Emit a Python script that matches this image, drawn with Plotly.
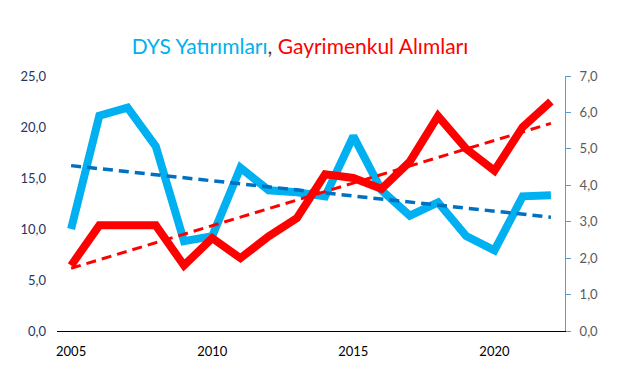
import numpy as np
import plotly.graph_objects as go

years = list(range(2005, 2023))
dys = [10.0, 21.1, 21.9, 18.1, 8.8, 9.3, 16.0, 13.8, 13.6, 13.2, 19.1, 13.8, 11.3, 12.6, 9.3, 7.9, 13.2, 13.3]
gayrimenkul = [1.8, 2.9, 2.9, 2.9, 1.8, 2.55, 2.0, 2.6, 3.1, 4.3, 4.2, 3.9, 4.65, 5.9, 5.0, 4.4, 5.6, 6.3]
left_ticks = [0, 5, 10, 15, 20, 25]
right_ticks = [0, 1, 2, 3, 4, 5, 6, 7]
x_ticks = [2005, 2010, 2015, 2020]

x = np.array(years, dtype=float)
b1 = np.polyfit(x, dys, 1)
b2 = np.polyfit(x, gayrimenkul, 1)
trend_dys = np.polyval(b1, x)
trend_gm = np.polyval(b2, x)

fig = go.Figure()
fig.add_trace(go.Scatter(x=years, y=dys, mode="lines", line=dict(color="#00B0F0", width=8), yaxis="y"))
fig.add_trace(go.Scatter(x=years, y=trend_dys, mode="lines", line=dict(color="#0070C0", width=3.5, dash="10px,6px"), yaxis="y"))
fig.add_trace(go.Scatter(x=years, y=gayrimenkul, mode="lines", line=dict(color="#FF0000", width=8), yaxis="y2"))
fig.add_trace(go.Scatter(x=years, y=trend_gm, mode="lines", line=dict(color="#FF0000", width=3, dash="10px,6px"), yaxis="y2"))

font = "Lato, Open Sans, sans-serif"
fig.update_layout(
    width=623, height=363,
    margin=dict(l=42, r=66, t=68, b=40),
    paper_bgcolor="white", plot_bgcolor="white",
    showlegend=False,
    separators=",.",
    font=dict(family=font),
    title=dict(
        text="<span style='color:#00B0F0'>DYS Yatırımları</span><span style='color:#404040'>, </span><span style='color:#FF0000'>Gayrimenkul Alımları</span>",
        x=(300 - 8) / 623, xanchor="center", y=1 - (47 - 8) / 363, yanchor="middle",
        font=dict(size=21, family=font),
    ),
    xaxis=dict(
        range=[2004.5, 2022.5], tickvals=x_ticks, ticktext=[str(t) for t in x_ticks],
        showgrid=False, zeroline=False, showline=True, linecolor="black", linewidth=1,
        ticks="", ticklabelstandoff=8, tickfont=dict(size=13, color="black"),
    ),
    yaxis=dict(
        range=[0, 25], tickvals=left_ticks, tickformat=".1f",
        showgrid=False, zeroline=False, showline=False, ticks="",
        ticklabelstandoff=10,
        tickfont=dict(size=13, color="#1F3864"),
    ),
    yaxis2=dict(
        range=[0, 7], tickvals=right_ticks, tickformat=".1f",
        overlaying="y", side="right",
        showgrid=False, zeroline=False, showline=True, linecolor="#5B9BD5", linewidth=1,
        ticks="outside", ticklen=5, tickcolor="#5B9BD5",
        ticklabelstandoff=6,
        tickfont=dict(size=13, color="#595959"),
    ),
)

fig.write_html("out.html")
